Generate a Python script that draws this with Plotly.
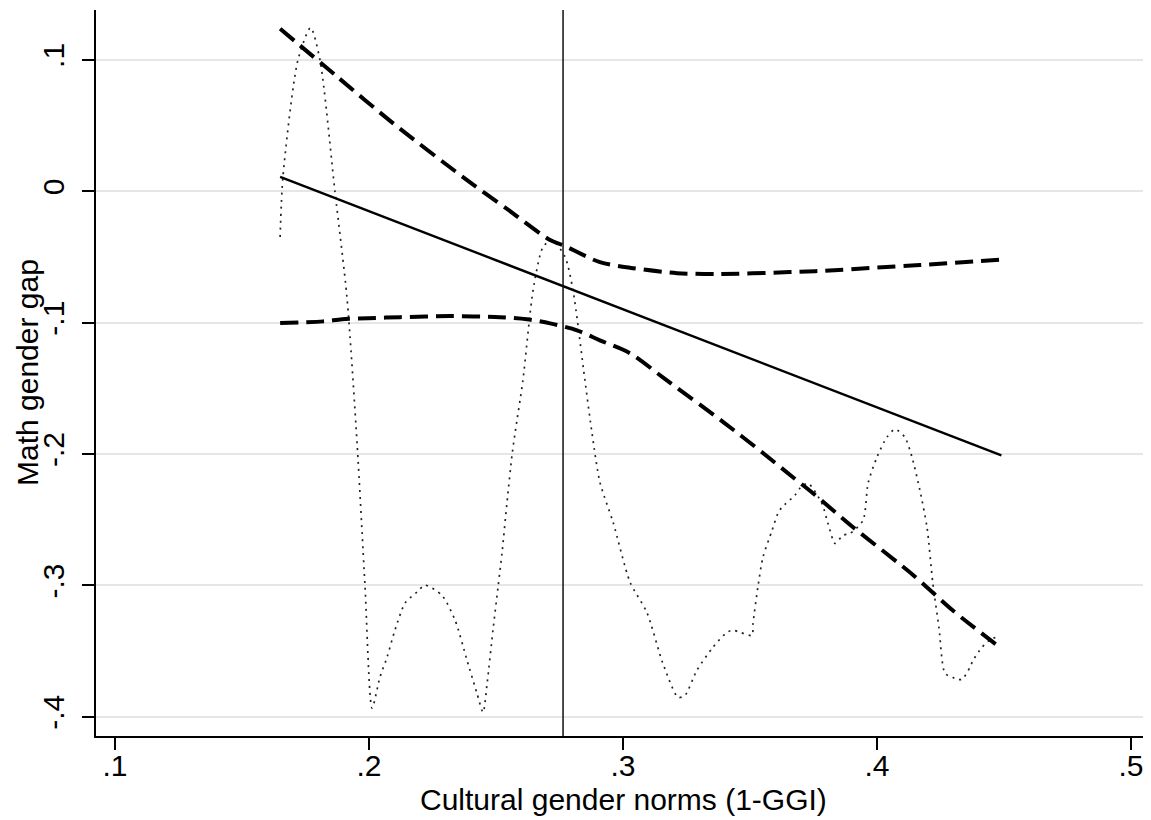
import plotly.graph_objects as go

# ---- data ----
dot_x = [0.1650, 0.1661, 0.1720, 0.1770, 0.1807, 0.1866, 0.1913, 0.1953, 0.1984, 0.2012,
         0.2043, 0.2071, 0.2102, 0.2142, 0.2189, 0.2220, 0.2287, 0.2339, 0.2386, 0.2425,
         0.2449, 0.2465, 0.2488, 0.2508, 0.2524, 0.2543, 0.2563, 0.2575, 0.2606, 0.2646,
         0.2685, 0.2720, 0.2772, 0.2803, 0.2850, 0.2878, 0.2909, 0.2961, 0.3028, 0.3094,
         0.3157, 0.3217, 0.3244, 0.3291, 0.3354, 0.3409, 0.3433, 0.3461, 0.3508, 0.3512,
         0.3531, 0.3551, 0.3587, 0.3610, 0.3626, 0.3677, 0.3697, 0.3728, 0.3783, 0.3807,
         0.3835, 0.3866, 0.3894, 0.3945, 0.3965, 0.4000, 0.4039, 0.4071, 0.4110, 0.4138,
         0.4169, 0.4197, 0.4220, 0.4244, 0.4268, 0.4299, 0.4315, 0.4335, 0.4366, 0.4378,
         0.4413, 0.4453, 0.4475]
dot_y = [-0.0348, 0.0109, 0.0999, 0.1245, 0.0999, -0.0005, -0.0805, -0.1918, -0.2999, -0.3934,
         -0.3699, -0.3546, -0.3341, -0.3134, -0.3050, -0.2998, -0.3075, -0.3265, -0.3570, -0.3821,
         -0.3966, -0.3745, -0.3341, -0.3013, -0.2747, -0.2374, -0.2008, -0.1841, -0.1437, -0.0752,
         -0.0424, -0.0371, -0.0500, -0.0752, -0.1437, -0.1841, -0.2214, -0.2519, -0.2976, -0.3205,
         -0.3593, -0.3852, -0.3837, -0.3646, -0.3471, -0.3357, -0.3341, -0.3357, -0.3380, -0.3289,
         -0.3015, -0.2786, -0.2581, -0.2451, -0.2405, -0.2313, -0.2260, -0.2222, -0.2375, -0.2527,
         -0.2680, -0.2619, -0.2604, -0.2505, -0.2222, -0.2024, -0.1872, -0.1811, -0.1872, -0.2024,
         -0.2275, -0.2557, -0.2984, -0.3319, -0.3669, -0.3700, -0.3715, -0.3715, -0.3624, -0.3571,
         -0.3472, -0.3403, -0.3395]

upper_x = [0.165, 0.187, 0.2094, 0.2386, 0.255, 0.2713, 0.2764, 0.2909, 0.304, 0.3213,
           0.337, 0.3657, 0.3756, 0.4169, 0.449]
upper_y = [0.1237, 0.0880, 0.0519, 0.0085, -0.0144, -0.0371, -0.0410, -0.0539, -0.0585, -0.0623,
           -0.0630, -0.0615, -0.0608, -0.0561, -0.0520]

lower_x = [0.165, 0.1819, 0.1894, 0.1996, 0.2122, 0.2319, 0.2516, 0.2622, 0.2713, 0.2819,
           0.2909, 0.3028, 0.3157, 0.340, 0.355, 0.3669, 0.3748, 0.3906, 0.4142, 0.4299, 0.449]
lower_y = [-0.1003, -0.0990, -0.0974, -0.0966, -0.0958, -0.0950, -0.0958, -0.0974, -0.1005, -0.1058,
           -0.1134, -0.1233, -0.1416, -0.1764, -0.1990, -0.2176, -0.2298, -0.2557, -0.2920, -0.3191, -0.3480]

fit_x = [0.165, 0.449]
fit_y = [0.011, -0.201]

threshold_x = 0.2764

x_ticks = [0.1, 0.2, 0.3, 0.4, 0.5]
x_labels = [".1", ".2", ".3", ".4", ".5"]
y_ticks = [-0.4, -0.3, -0.2, -0.1, 0.0, 0.1]
y_labels = ["-.4", "-.3", "-.2", "-.1", "0", ".1"]

x_title = "Cultural gender norms (1-GGI)"
y_title = "Math gender gap"

FONT = "Liberation Sans, Arial, sans-serif"
FS = 30

fig = go.Figure()
fig.add_trace(go.Scatter(x=dot_x, y=dot_y, mode="lines",
                         line=dict(color="#222222", width=1.7, dash="2px,5px",
                                   shape="spline", smoothing=0.7),
                         showlegend=False, hoverinfo="skip"))
fig.add_trace(go.Scatter(x=fit_x, y=fit_y, mode="lines",
                         line=dict(color="black", width=2.4),
                         showlegend=False))
fig.add_trace(go.Scatter(x=upper_x, y=upper_y, mode="lines",
                         line=dict(color="black", width=4, dash="18px,8px",
                                   shape="spline", smoothing=0.8),
                         showlegend=False))
fig.add_trace(go.Scatter(x=lower_x, y=lower_y, mode="lines",
                         line=dict(color="black", width=4, dash="18px,8px",
                                   shape="spline", smoothing=0.8),
                         showlegend=False))

fig.add_vline(x=threshold_x, line=dict(color="#111111", width=1.5))

# page body adds an 8px offset; figure is sized/margined to compensate
fig.update_layout(
    width=1143, height=812,
    margin=dict(l=88, r=0, t=2, b=84),
    paper_bgcolor="white", plot_bgcolor="white",
    font=dict(family=FONT, size=FS, color="black"),
    showlegend=False,
)
fig.update_xaxes(
    range=[0.0925, 0.5079], tickvals=x_ticks, ticktext=x_labels,
    showgrid=False, zeroline=False,
    showline=True, linecolor="black", linewidth=2,
    ticks="outside", ticklen=12, tickwidth=2, tickcolor="black",
    tickfont=dict(family=FONT, size=FS), ticklabelstandoff=-10,
    automargin=False,
)
fig.update_yaxes(
    range=[-0.4146, 0.138], tickvals=y_ticks, ticktext=y_labels, tickangle=-90,
    showgrid=True, gridcolor="#e6e6e6", gridwidth=2, zeroline=False,
    showline=True, linecolor="black", linewidth=2,
    ticks="outside", ticklen=12, tickwidth=2, tickcolor="black",
    tickfont=dict(family=FONT, size=FS), ticklabelstandoff=6,
    automargin=False,
)
fig.add_annotation(text=x_title, xref="paper", yref="paper", x=0.5, y=0,
                   xanchor="center", yanchor="middle", yshift=-63, showarrow=False,
                   font=dict(family=FONT, size=FS, color="black"))
fig.add_annotation(text=y_title, xref="paper", yref="paper", x=0, y=0.5,
                   xanchor="center", yanchor="middle", xshift=-69, textangle=-90,
                   showarrow=False, font=dict(family=FONT, size=FS, color="black"))

fig.write_html("out.html")
